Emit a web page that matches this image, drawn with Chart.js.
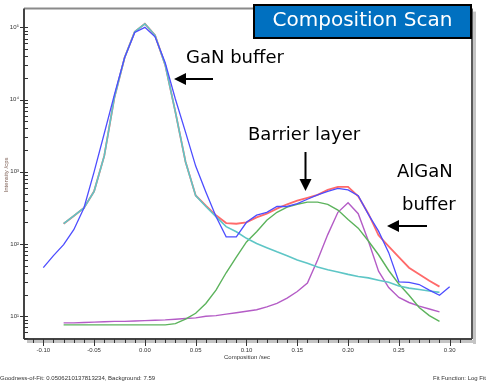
<!DOCTYPE html>
<html>
<head>
<meta charset="utf-8">
<title>Composition Scan</title>
<script src="https://cdn.jsdelivr.net/npm/chart.js@4.4.0/dist/chart.umd.min.js"></script>
<style>
    html, body { margin: 0; padding: 0; background: #fff; }
    #wrap { width: 494px; height: 384px; position: relative; }
</style>
</head>
<body>
<div id="wrap"><canvas id="scanChart"></canvas></div>
<script>
// composition positions (x axis)
const compMeasured = [-0.10, -0.09, -0.08, -0.07, -0.06, -0.05, -0.04, -0.03, -0.02, -0.01,
    0.00, 0.01, 0.02, 0.03, 0.04, 0.05, 0.06, 0.07, 0.08, 0.09,
    0.10, 0.11, 0.12, 0.13, 0.14, 0.15, 0.16, 0.17, 0.18, 0.19,
    0.20, 0.21, 0.22, 0.23, 0.24, 0.25, 0.26, 0.27, 0.28, 0.29, 0.30];
const compFit = [-0.08, -0.07, -0.06, -0.05, -0.04, -0.03, -0.02, -0.01,
    0.00, 0.01, 0.02, 0.03, 0.04, 0.05, 0.06, 0.07, 0.08, 0.09,
    0.10, 0.11, 0.12, 0.13, 0.14, 0.15, 0.16, 0.17, 0.18, 0.19,
    0.20, 0.21, 0.22, 0.23, 0.24, 0.25, 0.26, 0.27, 0.28, 0.29];

// intensities (cps)
const measured = [47, 69, 98, 158, 316, 1000, 3390, 11700, 38000, 85000,
    100000, 74000, 32400, 10200, 3550, 1200, 525, 240, 126, 126,
    200, 251, 275, 331, 331, 363, 417, 479, 537, 589,
    562, 468, 257, 151, 76, 30, 29.5, 27.5, 23, 19.5, 25.7];
const ganBuffer = [191, 245, 316, 537, 1660, 10700, 38000, 87000,
    112000, 77600, 30200, 6760, 1380, 468, 331, 240, 174, 148,
    120, 102, 89, 78, 69, 60, 54, 48, 44, 41,
    38, 35.5, 34, 31.6, 29.5, 26.3, 24.5, 23.4, 22.4, 21.4];
const fitTotal = [191, 245, 316, 537, 1660, 10700, 38000, 87000,
    112000, 77600, 30200, 6760, 1380, 470, 340, 250, 195, 191,
    200, 234, 263, 309, 355, 398, 437, 479, 562, 617,
    617, 457, 263, 132, 93, 66, 47, 38, 31, 25.7];
const barrier = [7.6, 7.6, 7.6, 7.6, 7.6, 7.6, 7.6, 7.6,
    7.6, 7.6, 7.6, 7.9, 9.1, 11, 15, 23, 40, 66,
    107, 148, 214, 275, 324, 355, 380, 380, 355, 295,
    219, 166, 110, 71, 43, 28, 19.5, 13.2, 10.2, 8.5];
const alganBuffer = [8.1, 8.1, 8.2, 8.3, 8.4, 8.5, 8.5, 8.6,
    8.7, 8.8, 8.9, 9.1, 9.3, 9.5, 10, 10.2, 10.7, 11.2,
    11.7, 12.3, 13.5, 15.1, 17.8, 22, 28.8, 60, 135, 275,
    372, 263, 110, 42, 25, 18.2, 15.5, 13.8, 12.6, 11.5];

const xTicks = [-0.10, -0.05, 0.00, 0.05, 0.10, 0.15, 0.20, 0.25, 0.30];
const yDecades = [10, 100, 1000, 10000, 100000];
const yTickLabels = ['10\u00b9', '10\u00b2', '10\u00b3', '10\u2074', '10\u2075'];

function pts(xs, ys) {
    return xs.map((x, i) => ({ x: x, y: ys[i] }));
}

function arrow(ctx, x1, y1, x2, y2) {
    const ang = Math.atan2(y2 - y1, x2 - x1);
    const hl = 12, hw = 6;
    const bx = x2 - Math.cos(ang) * hl, by = y2 - Math.sin(ang) * hl;
    ctx.beginPath();
    ctx.moveTo(x1, y1);
    ctx.lineTo(bx, by);
    ctx.stroke();
    ctx.beginPath();
    ctx.moveTo(x2, y2);
    ctx.lineTo(bx - Math.sin(ang) * hw, by + Math.cos(ang) * hw);
    ctx.lineTo(bx + Math.sin(ang) * hw, by - Math.cos(ang) * hw);
    ctx.closePath();
    ctx.fill();
}

const decor = {
    id: 'decor',
    beforeDraw(chart) {
        const ctx = chart.ctx;
        ctx.save();
        ctx.fillStyle = '#fff';
        ctx.fillRect(0, 0, chart.width, chart.height);
        ctx.restore();
    },
    afterDraw(chart) {
        const { ctx, chartArea: a, scales: { x, y } } = chart;
        ctx.save();

        // shadow of the plot box
        ctx.fillStyle = '#c4c4c4';
        ctx.fillRect(a.right + 1, a.top + 3, 3, a.bottom - a.top + 2);
        ctx.fillRect(a.left + 3, a.bottom + 1, a.right - a.left + 1, 3);

        // frame
        ctx.lineWidth = 2;
        ctx.strokeStyle = '#8a8a8a';
        ctx.beginPath();
        ctx.moveTo(a.left, a.top);
        ctx.lineTo(a.right, a.top);
        ctx.stroke();
        ctx.strokeStyle = '#5a5a5a';
        ctx.beginPath();
        ctx.moveTo(a.right, a.top);
        ctx.lineTo(a.right, a.bottom);
        ctx.stroke();
        ctx.strokeStyle = '#444';
        ctx.beginPath();
        ctx.moveTo(a.left, a.top);
        ctx.lineTo(a.left, a.bottom);
        ctx.moveTo(a.left, a.bottom);
        ctx.lineTo(a.right, a.bottom);
        ctx.stroke();

        // x ticks every 0.01, longer every 0.05
        ctx.lineWidth = 1;
        ctx.strokeStyle = '#333';
        ctx.beginPath();
        for (let i = -11; i <= 31; i++) {
            const px = Math.round(x.getPixelForValue(i / 100)) + 0.5;
            const len = i % 5 === 0 ? 7 : 4;
            ctx.moveTo(px, a.bottom);
            ctx.lineTo(px, a.bottom + len);
        }
        // y ticks at 1..9 of each decade
        for (let e = 0; e <= 5; e++) {
            for (let m = 1; m <= 9; m++) {
                const v = m * Math.pow(10, e);
                if (v < y.min || v > y.max) continue;
                const py = Math.round(y.getPixelForValue(v)) + 0.5;
                ctx.moveTo(m === 1 ? a.left - 4 : a.left, py);
                ctx.lineTo(a.left + 4, py);
            }
        }
        ctx.stroke();

        // axis titles and footer
        ctx.fillStyle = '#333';
        ctx.font = '6px "Liberation Sans"';
        ctx.textBaseline = 'middle';
        ctx.textAlign = 'center';
        ctx.fillText('Composition /sec', 247, 357);
        ctx.textAlign = 'left';
        ctx.fillText('Goodness-of-Fit: 0.0506210137813234, Background: 7.59', 0, 378);
        ctx.textAlign = 'right';
        ctx.fillText('Fit Function: Log Fit', 486, 378);
        ctx.save();
        ctx.translate(6, 175);
        ctx.rotate(-Math.PI / 2);
        ctx.textAlign = 'center';
        ctx.fillStyle = '#7d5f55';
        ctx.fillText('Intensity /cps', 0, 0);
        ctx.restore();

        // title box
        ctx.fillStyle = '#0070c0';
        ctx.fillRect(254, 5, 217, 33);
        ctx.lineWidth = 2;
        ctx.strokeStyle = '#000';
        ctx.strokeRect(254, 5, 217, 33);
        ctx.fillStyle = '#fff';
        ctx.font = '20px "DejaVu Sans"';
        ctx.textAlign = 'center';
        ctx.fillText('Composition Scan', 362.5, 21);

        // annotations
        ctx.fillStyle = '#000';
        ctx.font = '18px "DejaVu Sans"';
        ctx.textAlign = 'left';
        ctx.fillText('GaN buffer', 186, 58);
        ctx.fillText('Barrier layer', 248, 135);
        ctx.fillText('AlGaN', 397, 172);
        ctx.fillText('buffer', 402, 205);
        ctx.strokeStyle = '#000';
        ctx.lineWidth = 2;
        arrow(ctx, 213, 79, 174, 79);
        arrow(ctx, 305.5, 152, 305.5, 191);
        arrow(ctx, 427, 226, 387, 226);

        ctx.restore();
    }
};

const ctx = document.getElementById('scanChart').getContext('2d');
const scanChart = new Chart(ctx, {
    type: 'line',
    data: {
        datasets: [
            { label: 'Measured', data: pts(compMeasured, measured), borderColor: '#4d4dff', borderWidth: 1.3 },
            { label: 'GaN buffer', data: pts(compFit, ganBuffer), borderColor: '#5ec6c6', borderWidth: 1.6 },
            { label: 'Fit', data: pts(compFit, fitTotal), borderColor: '#ff6a6a', borderWidth: 1.8 },
            { label: 'Barrier layer', data: pts(compFit, barrier), borderColor: '#5cb35c', borderWidth: 1.4 },
            { label: 'AlGaN buffer', data: pts(compFit, alganBuffer), borderColor: '#b45cc6', borderWidth: 1.4 }
        ]
    },
    options: {
        responsive: true,
        maintainAspectRatio: false,
        animation: false,
        devicePixelRatio: 1,
        layout: { padding: { left: 0, top: 5, right: 22, bottom: 0 } },
        elements: {
            point: { radius: 0 },
            line: { tension: 0, fill: false }
        },
        plugins: {
            legend: { display: false },
            tooltip: { enabled: false }
        },
        scales: {
            x: {
                type: 'linear',
                min: -0.119,
                max: 0.322,
                bounds: 'data',
                afterFit: s => { s.height = 45; },
                afterBuildTicks: s => { s.ticks = xTicks.map(v => ({ value: v })); },
                grid: { display: false, drawTicks: false },
                border: { display: false },
                ticks: {
                    padding: 8,
                    maxRotation: 0,
                    autoSkip: false,
                    color: '#333',
                    font: { family: 'Liberation Sans', size: 6 },
                    callback: v => (Math.abs(v) < 1e-9 ? 0 : v).toFixed(2)
                }
            },
            y: {
                type: 'logarithmic',
                min: 4.84,
                max: 182000,
                bounds: 'data',
                afterFit: s => { s.width = 24; },
                afterBuildTicks: s => { s.ticks = yDecades.map(v => ({ value: v })); },
                grid: { display: false, drawTicks: false },
                border: { display: false },
                ticks: {
                    padding: 5,
                    autoSkip: false,
                    color: '#333',
                    font: { family: 'Liberation Sans', size: 6 },
                    callback: (v, i) => yTickLabels[i]
                }
            }
        }
    },
    plugins: [decor]
});
</script>
</body>
</html>
